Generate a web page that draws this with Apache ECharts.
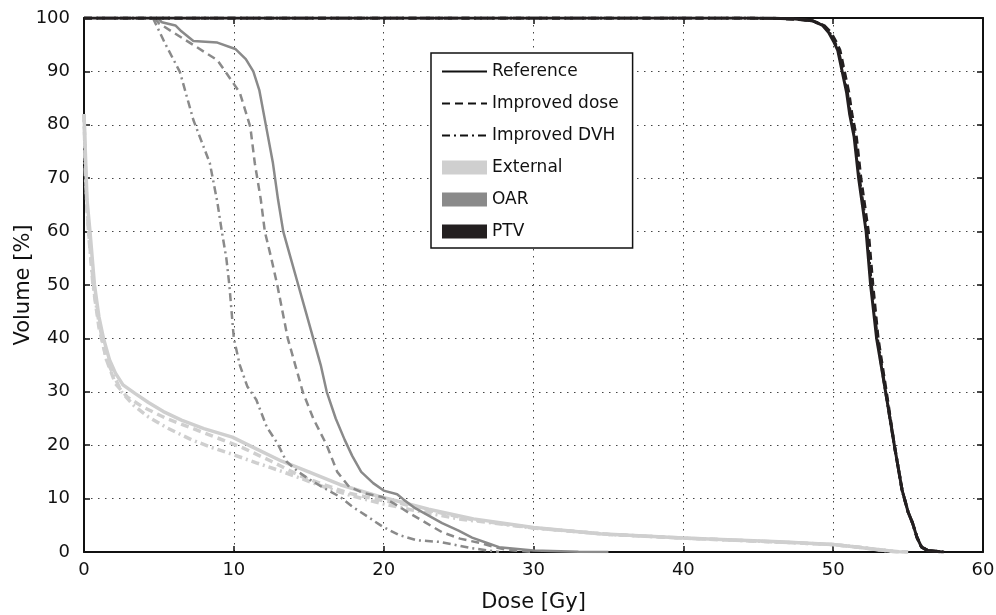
<!DOCTYPE html>
<html>
<head>
<meta charset="utf-8">
<script src="https://cdn.jsdelivr.net/npm/echarts@6/dist/echarts.min.js"></script>
<style>
  html, body { margin: 0; padding: 0; background: #fff; }
  #chart { width: 996px; height: 615px; }
</style>
</head>
<body>
<div id="chart"></div>
<script>
// dose [Gy], volume [%] pairs
const externalRef = [[0,82],[0.1,74],[0.2,66],[0.4,60],[0.7,50],[1.0,44],[1.3,40],[1.7,36],[2.1,33.5],[2.6,31.3],[3.4,29.7],[4.3,28],[5.3,26.3],[6.5,24.7],[8,23.1],[9.9,21.5],[11.5,19.3],[13.2,17],[15,15],[17.1,12.6],[19.7,10.4],[21.1,9.4],[23,8],[26,6.2],[30,4.6],[34.4,3.4],[40,2.6],[46.4,1.9],[50,1.4],[51.7,0.9],[53,0.4],[54.4,0.05],[55,0]]
const externalDose = [[0,82],[0.1,72],[0.2,64],[0.4,57],[0.7,48],[1.0,42],[1.5,36],[2.1,31.5],[2.9,29],[3.9,27.2],[5.5,25],[7.2,23.2],[8.5,21.8],[10.6,19.5],[12.5,17],[14.4,14.3],[16,12.6],[17.7,11],[20,9.6],[21.1,9.1],[23,7.8],[26,6],[30,4.5],[35,3.3],[40,2.6],[46,1.9],[50,1.4],[52,0.8],[54,0.1],[55,0]]
const externalDvh = [[0,82],[0.1,70],[0.3,60],[0.6,50],[1,43],[1.5,36],[2.5,30],[3.3,27.5],[4.3,25.3],[5.5,23.3],[7.2,21],[8.5,19.6],[9.9,18.3],[11.5,16.7],[13.3,15],[16.2,12],[17.9,10.5],[20,9],[22,7.8],[25,6.2],[30,4.5],[35,3.3],[40,2.6],[46,1.9],[50,1.4],[52,0.8],[54,0.1],[55,0]]

const oarRef = [[4.9,100],[5.2,99.2],[6.1,98.6],[6.5,97.5],[7.3,95.7],[8.9,95.4],[10.1,94.2],[10.8,92.3],[11.3,90],[11.7,86.5],[12.2,79],[12.6,73],[12.95,66],[13.3,60],[13.8,55],[14.3,50],[14.8,45],[15.3,40],[15.8,35],[16.2,30],[16.8,25],[17.4,21],[17.9,18],[18.5,15],[19.3,12.9],[20,11.5],[20.9,10.8],[21.3,9.9],[22.1,8.2],[23,6.8],[23.9,5.4],[25,4],[25.9,2.7],[27,1.6],[27.7,0.9],[30,0.3],[33,0.05],[35,0]]
const oarDose = [[4.7,100],[5.0,99],[5.9,97.4],[7.1,95.3],[8.9,92.1],[9.5,89.7],[10.4,86],[11.1,79.6],[11.4,72.8],[11.8,66],[12.07,60],[12.5,55],[12.9,50],[13.25,45],[13.6,40],[14.1,35],[14.6,30],[15.3,25],[16.2,20],[16.9,15],[17.7,12.2],[18.7,11],[19.9,10.3],[20.8,8.9],[21.7,7.3],[22.8,5.5],[23.9,3.7],[25.1,2.5],[26.4,1.7],[27.3,1],[28.2,0.4],[30,0]]
const oarDvh = [[4.6,100],[5.4,95.3],[6.4,89.9],[7.3,80.9],[8.4,72.8],[8.9,65.5],[9.2,60],[9.5,55],[9.7,50],[9.85,45],[10.0,40],[10.4,35],[10.9,31],[11.5,28.5],[12.2,23.4],[12.9,20.4],[13.5,17],[14.3,15],[15.1,13.5],[16,12],[17.1,10.3],[17.9,8.5],[19.0,6.5],[19.9,4.8],[21,3.2],[22.2,2.2],[23.7,1.9],[25,1.2],[25.9,0.7],[27.7,0]]

const ptvRef = [[0,100],[44,100],[46,99.95],[47.5,99.8],[48.6,99.5],[49.3,98.6],[49.7,97.3],[50.05,95.5],[50.3,94],[50.6,90],[50.9,86],[51.1,82],[51.4,77.7],[51.7,70],[52.2,60],[52.5,50],[52.9,40],[53.5,30],[54.1,19.7],[54.6,11.6],[55.0,7.5],[55.3,5.4],[55.6,2.7],[55.9,0.9],[56.3,0.3],[57.3,0]]
const ptvDose = [[0,100],[44,100],[46,99.95],[47.5,99.8],[48.6,99.5],[49.4,98.6],[49.85,97.3],[50.2,95.5],[50.45,94],[50.75,90],[51.05,86],[51.25,82],[51.55,77.7],[51.85,70],[52.35,60],[52.65,50],[53.0,40],[53.55,30],[54.1,19.7],[54.6,11.6],[55,7.5],[55.3,5.4],[55.6,2.7],[55.9,0.9],[56.3,0.3],[57.3,0]]
const ptvDvh = [[0,100],[44,100],[46,99.95],[47.5,99.8],[48.6,99.5],[49.35,98.6],[49.75,97.3],[50.1,95.5],[50.35,94],[50.65,90],[50.95,86],[51.15,82],[51.45,77.7],[51.75,70],[52.25,60],[52.55,50],[52.95,40],[53.5,30],[54.1,19.7],[54.6,11.6],[55,7.5],[55.3,5.4],[55.6,2.7],[55.9,0.9],[56.3,0.3],[57.4,0]]

const methods = ['Reference', 'Improved dose', 'Improved DVH']
const structures = ['External', 'OAR', 'PTV']
const xTicks = [0, 10, 20, 30, 40, 50, 60]
const yTicks = [0, 10, 20, 30, 40, 50, 60, 70, 80, 90, 100]

const FONT = 'DejaVu Sans'
const colors = { External: '#cfcfcf', OAR: '#8a8a8a', PTV: '#231f20' }
const widths = { External: 3.5, OAR: 2.5, PTV: 3 }
const dashes = { Reference: 'solid', 'Improved dose': [8, 5], 'Improved DVH': [8, 4, 2, 4] }

const curves = [
  ['External', 'Reference', externalRef],
  ['External', 'Improved dose', externalDose],
  ['External', 'Improved DVH', externalDvh],
  ['OAR', 'Reference', oarRef],
  ['OAR', 'Improved dose', oarDose],
  ['OAR', 'Improved DVH', oarDvh],
  ['PTV', 'Reference', ptvRef],
  ['PTV', 'Improved dose', ptvDose],
  ['PTV', 'Improved DVH', ptvDvh]
]

const series = []
curves.forEach(([s, m, d]) => {
  series.push({
    type: 'line',
    name: m === 'Reference' ? s : s + ' ' + m,
    data: d,
    color: colors[s],
    symbol: 'none',
    silent: true,
    lineStyle: { color: colors[s], width: widths[s], type: dashes[m] }
  })
})
// legend-only entries for the line styles
methods.forEach(m => {
  series.push({
    type: 'line',
    name: m,
    data: [],
    color: '#111',
    symbol: 'none',
    lineStyle: { color: '#111', width: 2, type: dashes[m] }
  })
})

const axisCommon = {
  type: 'value',
  axisLine: { show: true, onZero: false, lineStyle: { color: '#111', width: 2 } },
  axisTick: { show: true, inside: true, length: 6, lineStyle: { color: '#111', width: 1.5 } }
}

const chart = echarts.init(document.getElementById('chart'))
chart.setOption({
  animation: false,
  textStyle: { fontFamily: FONT },
  grid: { left: 84, right: 13, top: 18, bottom: 63, outerBoundsMode: 'none', containLabel: false },
  legend: {
    orient: 'vertical',
    left: 431,
    top: 53,
    padding: [10, 14, 8, 10],
    itemWidth: 45,
    itemHeight: 14,
    itemGap: 15,
    backgroundColor: '#fff',
    borderColor: '#111',
    borderWidth: 1.5,
    borderRadius: 0,
    selectedMode: false,
    textStyle: { fontFamily: FONT, fontSize: 17, color: '#111' },
    data: methods.map(m => ({ name: m, itemStyle: { opacity: 0 } }))
      .concat(structures.map(s => ({ name: s, icon: 'rect' })))
  },
  // y axis title placed by hand (axis name gets pushed against the edge)
  graphic: [{
    type: 'text',
    x: 24,
    y: 285,
    rotation: Math.PI / 2,
    style: {
      text: 'Volume [%]',
      fontFamily: FONT,
      fontSize: 21,
      fill: '#111',
      align: 'center',
      verticalAlign: 'middle'
    }
  }],
  xAxis: [
    Object.assign({}, axisCommon, {
      min: xTicks[0], max: xTicks[xTicks.length - 1], interval: 10,
      name: 'Dose [Gy]', nameLocation: 'middle', nameGap: 40,
      nameTextStyle: { fontFamily: FONT, fontSize: 21, color: '#111' },
      axisLabel: { fontFamily: FONT, fontSize: 18, color: '#111', margin: 9 },
      splitLine: { show: true, lineStyle: { color: '#444', width: 1, type: [1.5, 5.5] } }
    }),
    Object.assign({}, axisCommon, {
      position: 'top',
      min: xTicks[0], max: xTicks[xTicks.length - 1], interval: 10,
      axisLabel: { show: false },
      splitLine: { show: false }
    })
  ],
  yAxis: [
    Object.assign({}, axisCommon, {
      min: yTicks[0], max: yTicks[yTicks.length - 1], interval: 10,
      axisLabel: { fontFamily: FONT, fontSize: 18, color: '#111', margin: 14 },
      splitLine: { show: true, lineStyle: { color: '#444', width: 1, type: [1.5, 5.5] } }
    }),
    Object.assign({}, axisCommon, {
      position: 'right',
      min: yTicks[0], max: yTicks[yTicks.length - 1], interval: 10,
      axisLabel: { show: false },
      splitLine: { show: false }
    })
  ],
  series: series
})
</script>
</body>
</html>
